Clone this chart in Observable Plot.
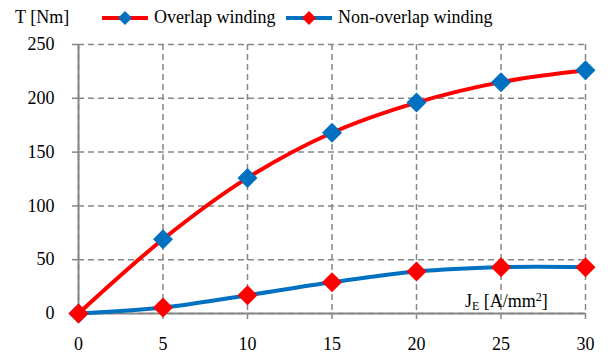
<!DOCTYPE html>
<html>
<head>
<meta charset="utf-8">
<script src="https://cdn.jsdelivr.net/npm/d3@7"></script>
<script src="https://cdn.jsdelivr.net/npm/@observablehq/plot@0.6"></script>
<style>
  html, body { margin: 0; padding: 0; background: #fff; }
  #wrap { position: relative; width: 610px; height: 360px; font-family: "Liberation Serif", "DejaVu Serif", "Noto Serif", serif; color: #000; }
  #wrap svg text { font-family: "Liberation Serif", "DejaVu Serif", "Noto Serif", serif; }
  .lbl { position: absolute; font-size: 18px; line-height: 20px; white-space: nowrap; }
  .leg { position: absolute; top: 7px; display: flex; align-items: center; font-size: 18px; white-space: nowrap; }
  .leg svg { margin-right: 4px; }
</style>
</head>
<body>
<div id="wrap"></div>
<script>
const currentDensity = [0, 5, 10, 15, 20, 25, 30];
const overlapTorque = [0, 69, 126, 168, 196, 215, 226];
const nonOverlapTorque = [0, 5.5, 17, 29, 39, 43, 43];
const yTicks = [0, 50, 100, 150, 200, 250];
const xTicks = [0, 5, 10, 15, 20, 25, 30];
const seriesNames = ["Overlap winding", "Non-overlap winding"];

const red = "#FF0000", blue = "#0070C0", grid = "#878787";
const serif = "'Liberation Serif', 'DejaVu Serif', 'Noto Serif', serif";

const overlap = currentDensity.map((x, i) => ({x, y: overlapTorque[i]}));
const nonOverlap = currentDensity.map((x, i) => ({x, y: nonOverlapTorque[i]}));

const chart = Plot.plot({
  width: 610,
  height: 360,
  marginTop: 44,
  marginRight: 25,
  marginBottom: 47,
  marginLeft: 78,
  style: {fontFamily: serif, fontSize: "18px", color: "#000", background: "#fff"},
  x: {domain: [0, 30]},
  y: {domain: [0, 250]},
  marks: [
    Plot.gridX(xTicks, {stroke: grid, strokeOpacity: 1, strokeWidth: 1.5, strokeDasharray: "6,4"}),
    Plot.gridY(yTicks, {stroke: grid, strokeOpacity: 1, strokeWidth: 1.5, strokeDasharray: "6,4"}),
    Plot.axisX(xTicks, {label: null, tickSize: 6, tickPadding: 18, stroke: grid, strokeWidth: 1.5, fill: "#000", fontSize: 18}),
    Plot.axisY(yTicks, {label: null, tickSize: 6, tickPadding: 18, stroke: grid, strokeWidth: 1.5, fill: "#000", fontSize: 18}),
    Plot.ruleX([0], {stroke: grid, strokeWidth: 2}),
    Plot.ruleY([0], {stroke: grid, strokeWidth: 2}),
    Plot.line(overlap, {x: "x", y: "y", stroke: red, strokeWidth: 4, curve: "catmull-rom"}),
    Plot.line(nonOverlap, {x: "x", y: "y", stroke: blue, strokeWidth: 4, curve: "catmull-rom"}),
    Plot.dot(overlap, {x: "x", y: "y", symbol: "diamond2", r: 9, fill: blue, stroke: "none"}),
    Plot.dot(nonOverlap, {x: "x", y: "y", symbol: "diamond2", r: 9, fill: red, stroke: "none"})
  ]
});

const wrap = document.getElementById("wrap");
wrap.appendChild(chart);

function legendItem(left, lineColor, markColor, text) {
  const d = document.createElement("div");
  d.className = "leg";
  d.style.left = left + "px";
  d.innerHTML = `<svg width="48" height="20" viewBox="0 0 48 20">
    <line x1="0" y1="10" x2="46" y2="10" stroke="${lineColor}" stroke-width="4"/>
    <path d="M23,3 L30,10 L23,17 L16,10 Z" fill="${markColor}"/></svg><span>${text}</span>`;
  wrap.appendChild(d);
}
legendItem(102, red, blue, seriesNames[0]);
legendItem(286, blue, red, seriesNames[1]);

const yl = document.createElement("div");
yl.className = "lbl";
yl.style.left = "15px"; yl.style.top = "7px";
yl.textContent = "T [Nm]";
wrap.appendChild(yl);

const xl = document.createElement("div");
xl.className = "lbl";
xl.style.left = "465px"; xl.style.top = "287px";
xl.innerHTML = "J<sub style=\"font-size:12px;vertical-align:-3px\">E</sub> [A/mm<sup style=\"font-size:12px;vertical-align:6px\">2</sup>]";
wrap.appendChild(xl);
</script>
</body>
</html>
